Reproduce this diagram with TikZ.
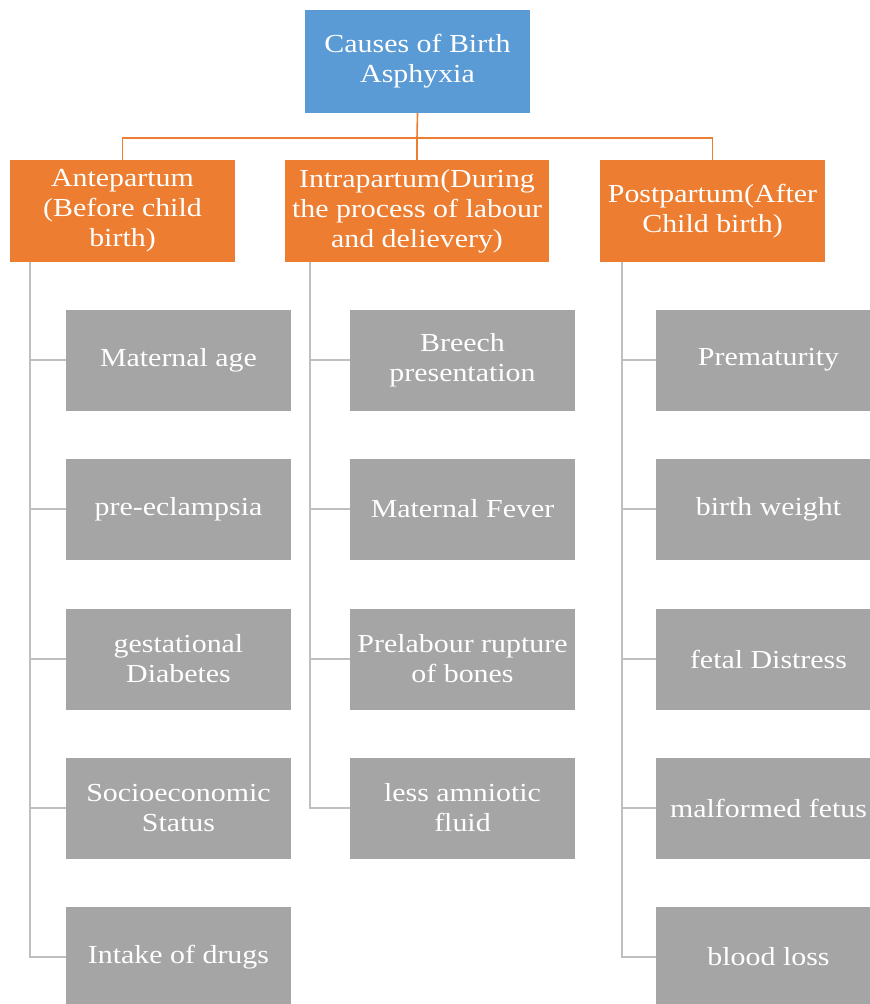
\documentclass[tikz,border=0pt]{standalone}
\usepackage{fontspec}
\setmainfont{Liberation Serif}[FakeStretch=1.15]
\usepackage{tikz}
\usetikzlibrary{positioning,calc}
\definecolor{causeblue}{HTML}{5B9BD5}
\definecolor{causeorange}{HTML}{ED7D31}
\definecolor{causegray}{HTML}{A5A5A5}
\definecolor{linegray}{HTML}{BFBFBF}

\begin{document}
\begin{tikzpicture}[x=1pt, y=-1pt,
  every node/.style={align=center, text=white, inner sep=0pt,
    font=\fontsize{26}{30}\selectfont},
  topbox/.style={fill=causeblue, minimum width=225pt, minimum height=103pt},
  phasebox/.style={fill=causeorange, minimum height=102pt},
  causebox/.style={fill=causegray, minimum width=225pt, minimum height=101pt},
  busline/.style={draw=causeorange, line width=1.6pt},
  treeline/.style={draw=linegray, line width=1.6pt},
]
  \useasboundingbox (0,0) rectangle (870,1004);

  \node[topbox] (top) at (417.5,61.5) {Causes of Birth\\Asphyxia};

  \node[phasebox, minimum width=225pt] (ante) at (122.5,211) {Antepartum\\(Before child\\birth)};
  \node[phasebox, minimum width=264pt] (intra) at (417,211) {Intrapartum(During\\the process of labour\\and delievery)};
  \node[phasebox, minimum width=225pt] (post) at (712.5,211) {Postpartum(After\\Child birth)};

  \node[causebox] (a1) at (178.5,360) {Maternal age};
  \node[causebox] (a2) at (178.5,509) {pre-eclampsia};
  \node[causebox] (a3) at (178.5,659) {gestational\\Diabetes};
  \node[causebox] (a4) at (178.5,808) {Socioeconomic\\Status};
  \node[causebox] (a5) at (178.5,957) {Intake of drugs};

  \node[causebox] (i1) at (462.5,360) {Breech\\presentation};
  \node[causebox] (i2) at (462.5,509) {Maternal Fever};
  \node[causebox] (i3) at (462.5,659) {Prelabour rupture\\of bones};
  \node[causebox] (i4) at (462.5,808) {less amniotic\\fluid};

  \node[causebox] (p1) at (768.5,360) {Prematurity};
  \node[causebox] (p2) at (768.5,509) {birth weight};
  \node[causebox] (p3) at (768.5,659) {fetal Distress};
  \node[causebox] (p4) at (768.5,808) {malformed fetus};
  \node[causebox] (p5) at (768.5,957) {blood loss};

  \coordinate (bus) at (417,138);
  \draw[busline] (top.south) -- (bus);
  \draw[busline] (ante.north) |- (bus) -| (post.north);
  \draw[busline] (bus) -- (intra.north);

  \draw[treeline] ([xshift=20pt]ante.south west) |- (a5.west);
  \foreach \c in {a1,a2,a3,a4}
    \draw[treeline] ([xshift=20pt]ante.south west |- \c.west) -- (\c.west);
  \draw[treeline] ([xshift=25pt]intra.south west) |- (i4.west);
  \foreach \c in {i1,i2,i3}
    \draw[treeline] ([xshift=25pt]intra.south west |- \c.west) -- (\c.west);
  \draw[treeline] ([xshift=22pt]post.south west) |- (p5.west);
  \foreach \c in {p1,p2,p3,p4}
    \draw[treeline] ([xshift=22pt]post.south west |- \c.west) -- (\c.west);
\end{tikzpicture}
\end{document}
